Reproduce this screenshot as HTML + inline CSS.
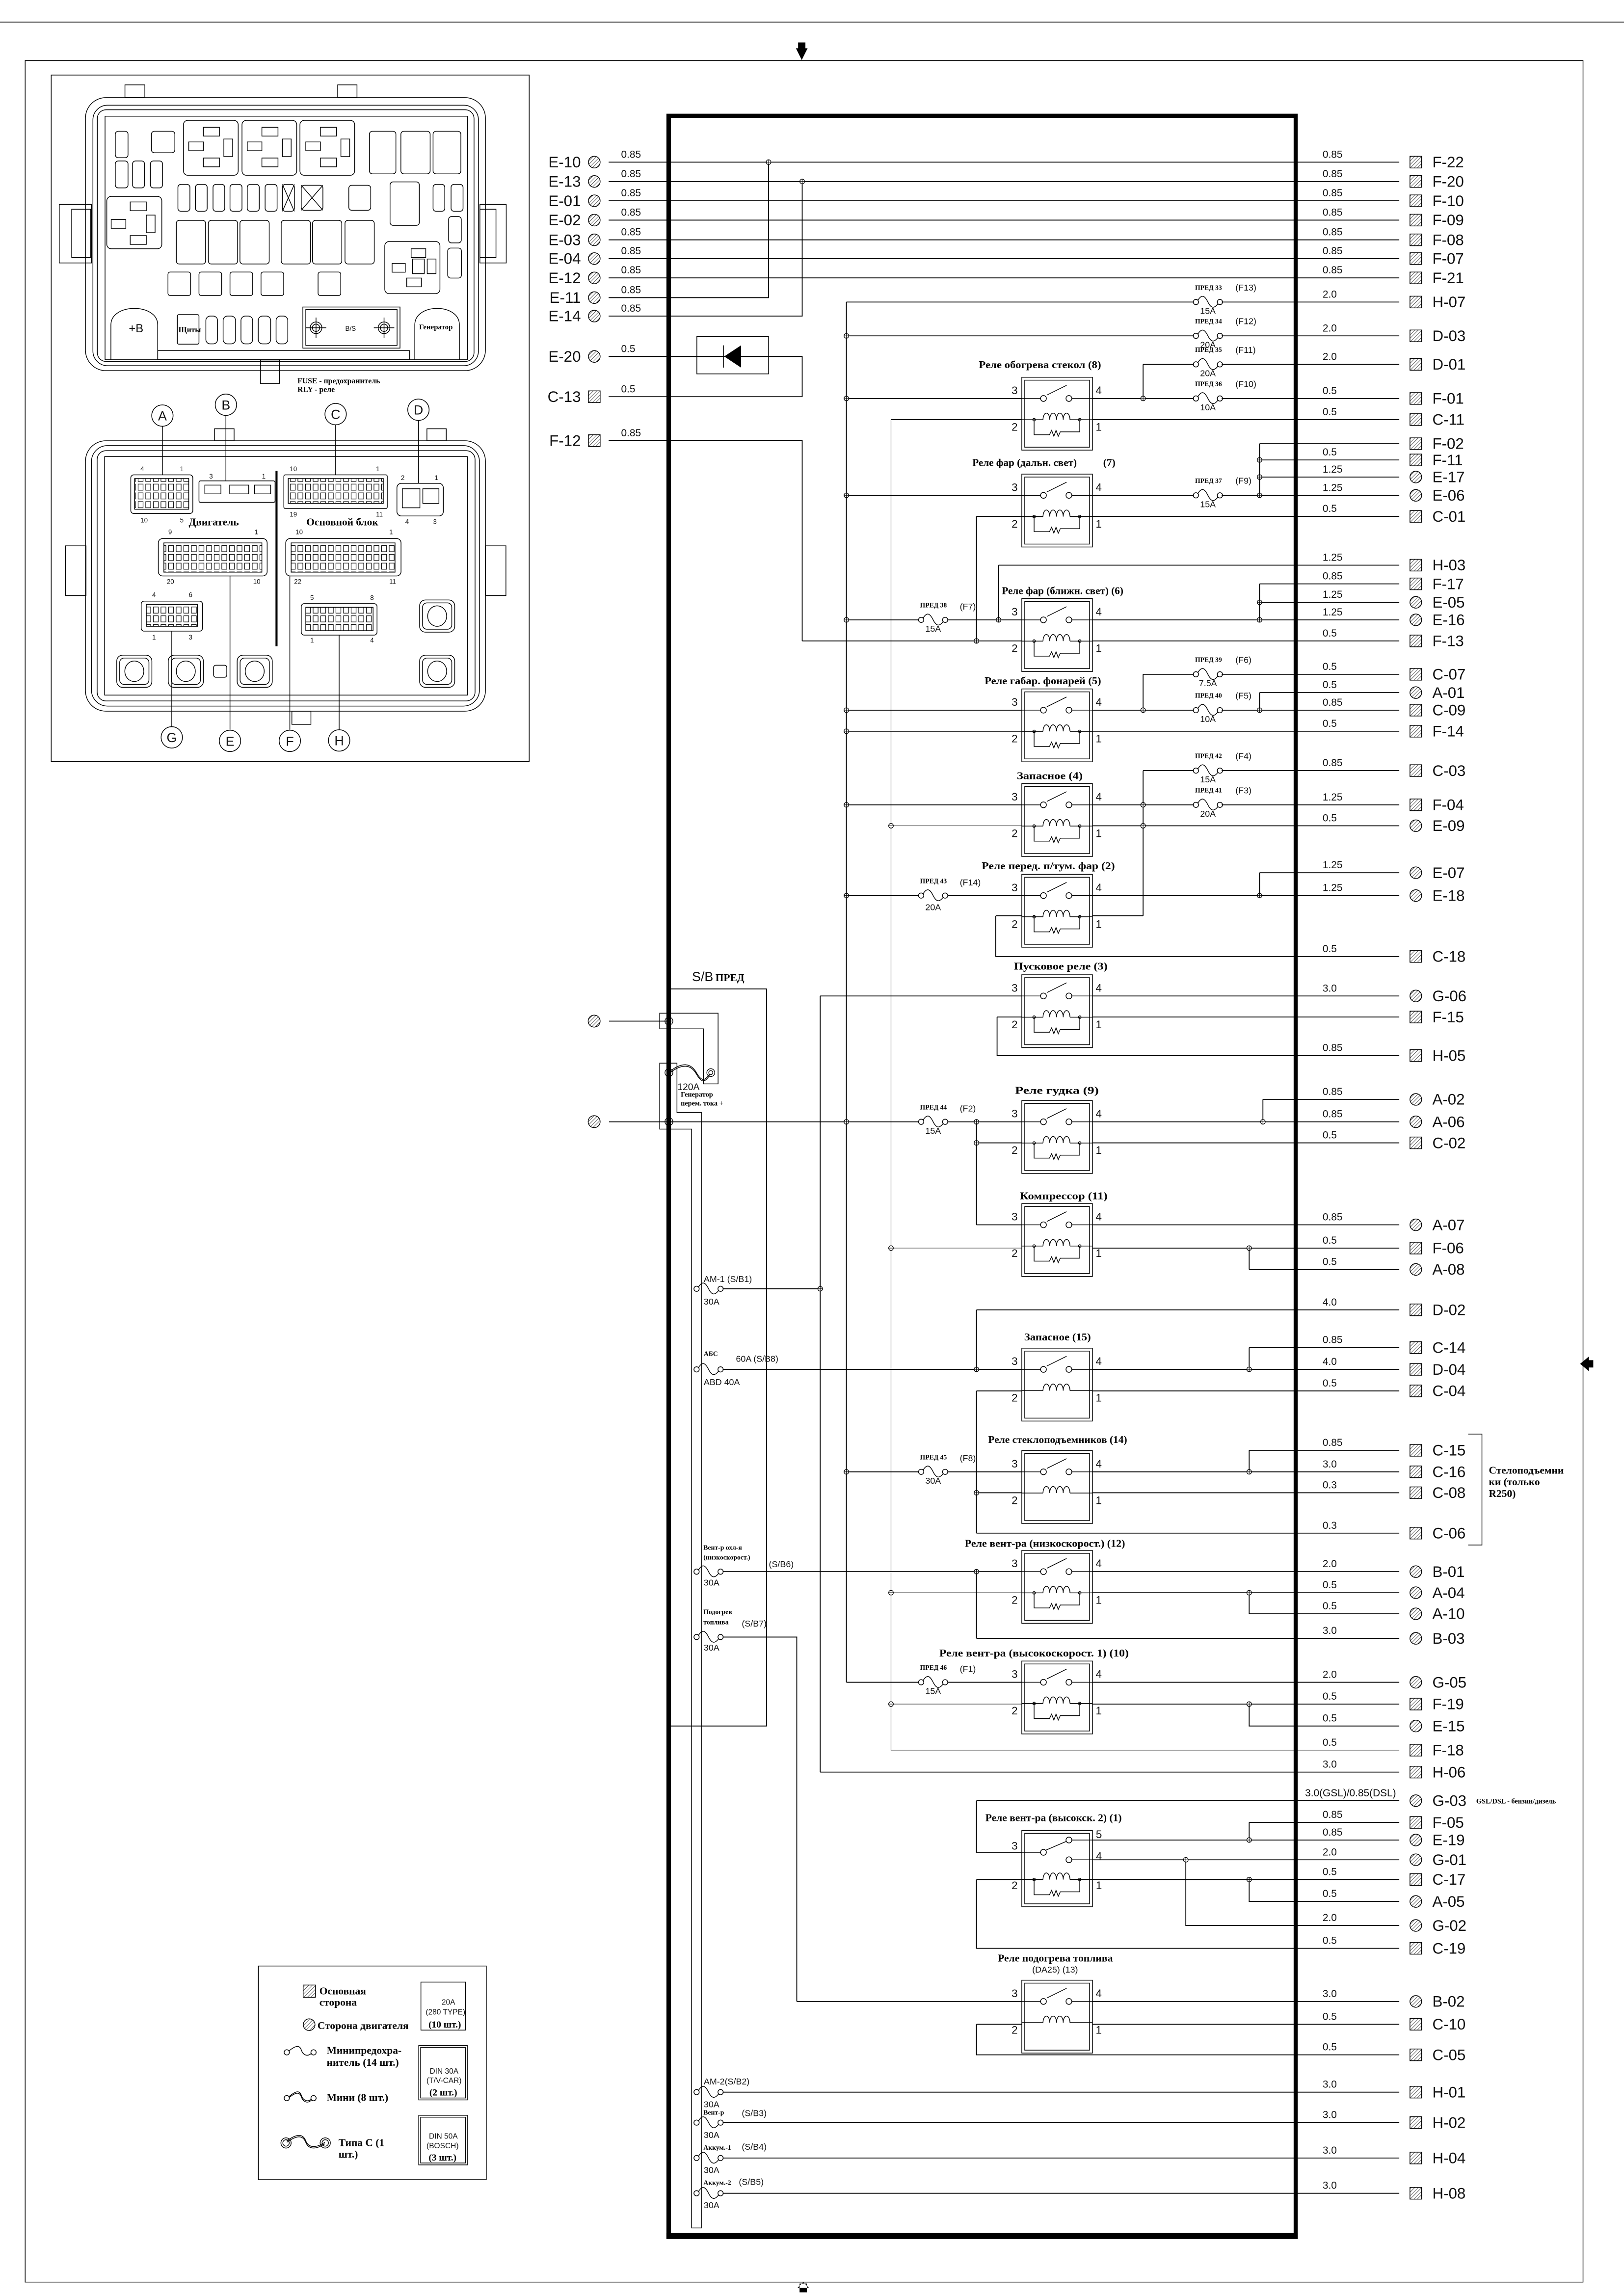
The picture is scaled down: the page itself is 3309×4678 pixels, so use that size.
<!DOCTYPE html>
<html><head><meta charset="utf-8"><style>
html,body{margin:0;padding:0;background:#fff}
svg{display:block}
.w{stroke:#000;stroke-width:.6;fill:none}
.k{stroke:#000;stroke-width:.5;fill:none}
.n{font-family:"Liberation Sans",sans-serif;font-size:10.5px;fill:#111}
.g{font-family:"Liberation Sans",sans-serif;font-size:7px;fill:#111}
.r{font-family:"Liberation Serif",serif;font-weight:bold;font-size:7.2px;fill:#000}
.p{font-family:"Liberation Serif",serif;font-weight:bold;font-size:4.6px;fill:#000}
.q{font-family:"Liberation Sans",sans-serif;font-size:6px;fill:#111}
.s{font-family:"Liberation Sans",sans-serif;font-size:4.5px;fill:#111}
.pn{font-family:"Liberation Sans",sans-serif;font-size:7.5px;fill:#111}
</style></head><body>
<svg width="3309" height="4678" viewBox="0 0 1110 1569" preserveAspectRatio="none" xmlns="http://www.w3.org/2000/svg">
<defs>
<pattern id="h" patternUnits="userSpaceOnUse" width="1.7" height="1.7" patternTransform="rotate(45)"><line x1="0" y1="0" x2="0" y2="1.7" stroke="#000" stroke-width=".45"/></pattern>
<pattern id="cl" patternUnits="userSpaceOnUse" width="5.2" height="6"><rect x=".8" y=".8" width="3.4" height="4.2" fill="none" stroke="#000" stroke-width=".4"/></pattern>
<g id="sq"><rect x="-4" y="-4" width="8" height="8" fill="url(#h)" stroke="#000" stroke-width=".5"/></g>
<g id="ci"><circle r="4" fill="url(#h)" stroke="#000" stroke-width=".5"/></g>
<g id="fu" fill="none" stroke="#000" stroke-width=".5"><circle cx="-8.2" r="1.8"/><circle cx="8.2" r="1.8"/><path d="M-7,-1 C-4,-6 -2,-4 0,0 S4,5 7,1"/></g>
<g id="jd"><circle r="1.6" fill="#fff" stroke="#000" stroke-width=".45"/><path d="M-1.6,0H1.6M0,-1.6V1.6" stroke="#000" stroke-width=".35"/></g>
<g id="rs" class="k"><rect x="0" y="-14.5" width="48.3" height="49.8"/><rect x="2" y="-12.5" width="44.3" height="45.8"/>
<path d="M0,0H12.8M34.2,0H48.3M17.1,-2.3L30.6,-9M0,14.5H8.4M39.6,14.5H48.3M8.4,14.5H14.5M32.9,14.5H39.6"/>
<circle cx="14.8" r="2"/><circle cx="32.2" r="2"/>
<path d="M14.5,14.5 a2.3,4.5 0 0 1 4.6,0 a2.3,4.5 0 0 1 4.6,0 a2.3,4.5 0 0 1 4.6,0 a2.3,4.5 0 0 1 4.6,0"/>
<circle cx="8.4" cy="14.5" r=".9"/><circle cx="39.6" cy="14.5" r=".9"/>
<path d="M8.4,14.5V24.8H18.9l1.5,-3 1.5,4 1.5,-4 1.5,4 1.4,-3H39.6V14.5"/>
<text class="pn" x="-7" y="-3" stroke="none" fill="#111">3</text><text class="pn" x="50.5" y="-3" stroke="none" fill="#111">4</text>
<text class="pn" x="-7" y="22" stroke="none" fill="#111">2</text><text class="pn" x="50.5" y="22" stroke="none" fill="#111">1</text></g>
<g id="rn" class="k"><rect x="0" y="-14.5" width="48.3" height="49.8"/><rect x="2" y="-12.5" width="44.3" height="45.8"/>
<path d="M0,0H12.8M34.2,0H48.3M17.1,-2.3L30.6,-9M0,14.5H14.5M32.9,14.5H48.3"/>
<circle cx="14.8" r="2"/><circle cx="32.2" r="2"/>
<path d="M14.5,14.5 a2.3,4.5 0 0 1 4.6,0 a2.3,4.5 0 0 1 4.6,0 a2.3,4.5 0 0 1 4.6,0 a2.3,4.5 0 0 1 4.6,0"/>
<text class="pn" x="-7" y="-3" stroke="none" fill="#111">3</text><text class="pn" x="50.5" y="-3" stroke="none" fill="#111">4</text>
<text class="pn" x="-7" y="22" stroke="none" fill="#111">2</text><text class="pn" x="50.5" y="22" stroke="none" fill="#111">1</text></g>
<g id="dc"><circle r="2.7" fill="none" stroke="#000" stroke-width=".45"/><circle r="1.4" fill="none" stroke="#000" stroke-width=".45"/></g>
<g id="hole" class="k"><rect x="-12" y="-11" width="24" height="22" rx="4"/><rect x="-10" y="-9" width="20" height="18" rx="3"/><ellipse rx="6.5" ry="7"/></g>
</defs>
<rect width="1110" height="1569" fill="#fff"/>
<!-- page frame -->
<path class="k" d="M0,15.1H1110"/>
<rect class="k" x="17.2" y="41.4" width="1064.8" height="1518.1"/>
<path d="M545.5,33h5v-4h-5zM544,33h8l-4,8z" fill="#000"/>
<path d="M546.5,1560.5h5v6h-5zM545,1563.5h8l-4,-4z" fill="#000"/>
<path d="M1080,932l6,-5v10z" fill="#000"/><rect x="1085" y="929.5" width="4" height="5" fill="#000"/>

<!-- LEFT PANEL -->
<rect class="k" x="35" y="51.3" width="326.7" height="469"/>
<rect class="k" x="58.4" y="66.7" width="273.4" height="186.6" rx="14"/>
<rect class="k" x="63.5" y="71.9" width="263.5" height="178" rx="10"/>
<rect class="k" x="66.5" y="75" width="257.5" height="172" rx="6"/>
<rect class="k" x="71.8" y="79.4" width="247.7" height="166.4"/>
<rect class="k" x="85.4" y="58" width="13.6" height="8.7"/><rect class="k" x="230.8" y="58" width="13.2" height="8.7"/>
<rect class="k" x="40.5" y="139.7" width="22" height="40"/><rect class="k" x="49" y="143" width="13" height="33"/>
<rect class="k" x="328" y="139.7" width="18" height="40"/><rect class="k" x="328" y="143" width="11" height="33"/>
<rect class="k" x="178" y="246" width="13" height="16"/>
<g class="k">
<rect x="125.4" y="82.2" width="37.4" height="37.6" rx="3"/><rect x="165.4" y="82.2" width="37.4" height="37.6" rx="3"/><rect x="205" y="82.2" width="37.4" height="37.6" rx="3"/>
<rect x="139" y="87" width="11" height="6"/><rect x="179" y="87" width="11" height="6"/><rect x="219" y="87" width="11" height="6"/>
<rect x="139" y="108" width="11" height="6"/><rect x="179" y="108" width="11" height="6"/><rect x="219" y="108" width="11" height="6"/>
<rect x="129" y="97" width="10" height="6"/><rect x="169" y="97" width="10" height="6"/><rect x="209" y="97" width="10" height="6"/>
<rect x="153" y="95" width="6" height="12"/><rect x="193" y="95" width="6" height="12"/><rect x="233" y="95" width="6" height="12"/>
<rect x="252.5" y="89.7" width="18.1" height="29.1" rx="2"/><rect x="274" y="89.7" width="20" height="29.1" rx="2"/><rect x="296" y="89.7" width="19" height="29.1" rx="2"/>
<rect x="78.8" y="89.7" width="8.7" height="18.1" rx="2"/><rect x="103.5" y="89.7" width="16" height="14.7" rx="2"/>
<rect x="78.8" y="110" width="8.7" height="18.4" rx="2"/><rect x="90.6" y="110" width="8.2" height="18.4" rx="2"/><rect x="102.8" y="110" width="8.3" height="18.4" rx="2"/>
<rect x="73" y="134.2" width="37.6" height="35.8" rx="3"/><rect x="89" y="138" width="11" height="6"/><rect x="89" y="161" width="11" height="6"/><rect x="76" y="150" width="10" height="6"/><rect x="100" y="147" width="6" height="12"/>
<rect x="121.6" y="126" width="8.2" height="18.4" rx="2"/><rect x="133.6" y="126" width="8" height="18.4" rx="2"/><rect x="145.6" y="126" width="8" height="18.4" rx="2"/><rect x="157.2" y="126" width="8.2" height="18.4" rx="2"/><rect x="169" y="126" width="8.2" height="18.4" rx="2"/><rect x="181.2" y="126" width="8.2" height="18.4" rx="2"/><rect x="193" y="126" width="8.2" height="18.4" rx="2"/>
<rect x="205.9" y="126.6" width="14.8" height="17.1" rx="2"/><rect x="238.4" y="126.6" width="15" height="17.1" rx="2"/>
<path d="M193,126L201.2,144.4M201.2,126L193,144.4M205.9,126.6L220.7,143.7M220.7,126.6L205.9,143.7"/>
<rect x="266.6" y="124.3" width="20" height="29.7" rx="2"/><rect x="296" y="126" width="8" height="18.4" rx="2"/><rect x="308.3" y="126" width="8.2" height="18.4" rx="2"/>
<rect x="306.6" y="148" width="8.7" height="18" rx="2"/><rect x="306" y="169.5" width="9.4" height="20.5" rx="2"/>
<rect x="120.5" y="150.6" width="20" height="29.8" rx="2"/><rect x="142.4" y="150.6" width="20" height="29.8" rx="2"/><rect x="164" y="150.6" width="20" height="29.8" rx="2"/><rect x="192.2" y="150.6" width="20" height="29.8" rx="2"/><rect x="213.6" y="150.6" width="20" height="29.8" rx="2"/><rect x="235.8" y="150.6" width="20" height="29.8" rx="2"/>
<rect x="263" y="165" width="37.7" height="35.7" rx="3"/><rect x="281" y="170" width="10" height="6"/><rect x="278" y="190" width="10" height="6"/><rect x="268" y="180" width="9" height="6"/><rect x="282" y="177" width="8" height="10"/><rect x="292" y="177" width="6" height="10"/>
<rect x="114.8" y="185.9" width="15.5" height="16.1" rx="1.5"/><rect x="136" y="185.9" width="15.5" height="16.1" rx="1.5"/><rect x="157.2" y="185.9" width="15.5" height="16.1" rx="1.5"/><rect x="178.4" y="185.9" width="15.5" height="16.1" rx="1.5"/><rect x="217.4" y="185.9" width="15.5" height="16.1" rx="1.5"/>
<path d="M75.8,245.8V222c0,-15 32,-15 32,0V245.8M283.5,245.8V222c0,-15 30.5,-15 30.5,0V245.8"/>
<rect x="121.2" y="215" width="14.8" height="20.2" rx="1"/>
<rect x="140.7" y="216" width="8" height="19" rx="3"/><rect x="152.5" y="216" width="8.5" height="19" rx="3"/><rect x="164.7" y="216" width="8" height="19" rx="3"/><rect x="176.5" y="216" width="8.5" height="19" rx="3"/><rect x="188.7" y="216" width="8" height="19" rx="3"/>
<rect x="207" y="209.8" width="66.4" height="28.1"/><rect x="209" y="211.5" width="62.4" height="24.5"/>
<circle cx="216" cy="224" r="4"/><circle cx="216" cy="224" r="2.5"/><circle cx="262.5" cy="224" r="4"/><circle cx="262.5" cy="224" r="2.5"/>
<path d="M209,224H223M216,217V231M255.5,224H269.5M262.5,217V231"/>
<rect x="107.8" y="239.6" width="172.2" height="6.2"/>
</g>
<text class="g" x="88" y="227" style="font-size:8px">+B</text>
<text class="p" x="122" y="227" style="font-size:5.2px">Щиты</text>
<text class="p" x="286.5" y="225" style="font-size:5px">Генератор</text>
<text class="s" x="236" y="226">B/S</text>
<text class="p" x="203.3" y="262" style="font-size:5.3px">FUSE - предохранитель</text>
<text class="p" x="203.3" y="267.8" style="font-size:5.3px">RLY - реле</text>
<rect class="k" x="58.4" y="301.2" width="273.4" height="184.8" rx="14"/>
<rect class="k" x="62.5" y="304.5" width="265.2" height="178" rx="11"/>
<rect class="k" x="66.4" y="308" width="258.3" height="171" rx="6"/>
<rect class="k" x="71.5" y="312" width="248" height="163"/>
<rect class="k" x="146.6" y="293" width="13.4" height="8.2"/><rect class="k" x="291.8" y="293" width="13.2" height="8.2"/>
<rect class="k" x="44.7" y="373" width="14.1" height="34"/><rect class="k" x="331.8" y="373" width="14" height="34"/>
<rect class="k" x="199.5" y="486" width="13" height="9"/>
<g class="k">
<rect x="89.4" y="324.5" width="42.4" height="26.4" rx="2"/><rect x="92" y="327" width="37" height="21" fill="url(#cl)"/>
<rect x="136" y="328.6" width="52" height="14.7" rx="1"/><rect x="140" y="331.5" width="11" height="6"/><rect x="157" y="331.5" width="13" height="6"/><rect x="174" y="331.5" width="11" height="6"/>
<rect x="194" y="324.5" width="70.7" height="23" rx="1"/><rect x="197" y="327" width="65" height="17" fill="url(#cl)"/>
<rect x="271.3" y="330.3" width="31.7" height="22.3" rx="3"/><rect x="275" y="334" width="12" height="13"/><rect x="289" y="334" width="11" height="10"/>
<rect x="108.2" y="368" width="74.4" height="25.6" rx="3"/><rect x="112" y="371" width="67" height="20" fill="url(#cl)"/>
<rect x="195.3" y="368" width="78.8" height="25.6" rx="3"/><rect x="199" y="371" width="71" height="20" fill="url(#cl)"/>
<rect x="96.5" y="410.8" width="41.9" height="20.5" rx="2"/><rect x="100" y="413" width="35" height="15" fill="url(#cl)"/>
<rect x="205.9" y="412.5" width="51.8" height="21.5" rx="2"/><rect x="209" y="415" width="46" height="16" fill="url(#cl)"/>
<rect x="146" y="454.6" width="9" height="8.2" rx="1.5"/>
</g>
<rect x="188.3" y="321.8" width="1.4" height="119.8" fill="#000"/>
<use href="#hole" x="91.8" y="458.7"/><use href="#hole" x="127" y="458.7"/><use href="#hole" x="174.1" y="458.7"/><use href="#hole" x="298.8" y="458.7"/><use href="#hole" x="298.8" y="421"/>
<text class="r" x="129" y="359">Двигатель</text><text class="r" x="209.4" y="359">Основной блок</text>
<g class="s"><text x="96" y="322">4</text><text x="123" y="322">1</text><text x="96" y="357">10</text><text x="123" y="357">5</text><text x="143" y="327">3</text><text x="179" y="327">1</text><text x="198" y="322">10</text><text x="257" y="322">1</text><text x="198" y="353">19</text><text x="257" y="353">11</text><text x="274" y="328">2</text><text x="297" y="328">1</text><text x="277" y="358">4</text><text x="296" y="358">3</text><text x="115" y="365">9</text><text x="174" y="365">1</text><text x="114" y="399">20</text><text x="173" y="399">10</text><text x="202" y="365">10</text><text x="266" y="365">1</text><text x="201" y="399">22</text><text x="266" y="399">11</text><text x="104" y="408">4</text><text x="129" y="408">6</text><text x="104" y="437">1</text><text x="129" y="437">3</text><text x="212" y="410">5</text><text x="253" y="410">8</text><text x="212" y="439">1</text><text x="253" y="439">4</text></g>
<g class="k"><circle cx="111" cy="284" r="7.3"/><circle cx="154.4" cy="276.6" r="7.3"/><circle cx="229.4" cy="283" r="7.3"/><circle cx="286" cy="280" r="7.3"/><circle cx="117.4" cy="503.9" r="7.3"/><circle cx="157.2" cy="506.3" r="7.3"/><circle cx="198.1" cy="506.3" r="7.3"/><circle cx="231.8" cy="506" r="7.3"/>
<path d="M111,291.3V324.5M154.4,283.9V328.6M229.4,290.3V324.5M286,287.3V330.3M117.4,496.6V431.3M157.2,499V393.6M198.1,499V393.6M231.8,498.7V434"/></g>
<g class="g" text-anchor="middle" style="font-size:9px"><text x="111" y="287.3">A</text><text x="154.4" y="279.9">B</text><text x="229.4" y="286.3">C</text><text x="286" y="283.3">D</text><text x="117.4" y="507.2">G</text><text x="157.2" y="509.6">E</text><text x="198.1" y="509.6">F</text><text x="231.8" y="509.3">H</text></g>

<!-- LEGEND -->
<rect class="k" x="176.6" y="1343.5" width="155.8" height="146"/>
<rect x="207.2" y="1356.5" width="8.4" height="8.4" fill="url(#h)" stroke="#000" stroke-width=".5"/>
<text class="r" x="218.3" y="1362.9">Основная</text><text class="r" x="218.3" y="1370.6">сторона</text>
<circle cx="211.3" cy="1383.6" r="4" fill="url(#h)" stroke="#000" stroke-width=".5"/>
<text class="r" x="217" y="1386.5">Сторона двигателя</text>
<g class="k"><circle cx="196" cy="1402.5" r="1.8"/><circle cx="214.3" cy="1402.5" r="1.8"/><path d="M197.5,1401.5C203,1397 205,1398 206,1401 S210,1406 213,1403"/>
<circle cx="196" cy="1433.8" r="1.8"/><circle cx="214.3" cy="1433.8" r="1.8"/><path d="M197.5,1432.8C203,1428 205,1429 206,1432 S210,1437 213,1434.3M197.5,1433.5C203,1429 205,1430 206,1433 S210,1438 213,1435"/>
<circle cx="195.5" cy="1464.4" r="3.5"/><circle cx="195.5" cy="1464.4" r="2.2"/><circle cx="222.3" cy="1464.4" r="3.5"/><circle cx="222.3" cy="1464.4" r="2.2"/><path d="M196,1463C203,1458 207,1458 209,1463 S216,1468 222,1464M196,1464C203,1459 207,1459 209,1464 S216,1469 222,1465"/></g>
<text class="r" x="223.3" y="1403.4">Минипредохра-</text><text class="r" x="223.3" y="1411.7">нитель (14 шт.)</text>
<text class="r" x="223.3" y="1435.6">Мини (8 шт.)</text>
<text class="r" x="231.4" y="1466.6">Типа С (1</text><text class="r" x="231.4" y="1474.4">шт.)</text>
<rect class="k" x="287.7" y="1354.5" width="30.5" height="32.8"/>
<rect class="k" x="286.2" y="1397.8" width="33.2" height="37.2"/><rect class="k" x="287.5" y="1399.1" width="30.6" height="34.6"/>
<rect class="k" x="286.2" y="1445.5" width="33.2" height="33.9"/><rect class="k" x="287.5" y="1446.8" width="30.6" height="31.3"/>
<g class="q" text-anchor="middle" style="font-size:5.2px"><text x="306.5" y="1370">20A</text><text x="304.5" y="1376.6">(280 TYPE)</text><text x="303.5" y="1417">DIN 30A</text><text x="303.5" y="1423.5">(T/V-CAR)</text><text x="303" y="1461.5">DIN 50A</text><text x="302.5" y="1468">(BOSCH)</text></g>
<g class="r" text-anchor="middle" style="font-size:6.5px"><text x="304" y="1385.5">(10 шт.)</text><text x="303" y="1432">(2 шт.)</text><text x="302.5" y="1476.5">(3 шт.)</text></g>

<!-- MAIN BOX -->
<rect x="456.9" y="79.1" width="428.7" height="1449.5" fill="none" stroke="#000" stroke-width="2.8"/>
<rect x="455.5" y="1526" width="431.5" height="4" fill="#000"/>

<g class="n" text-anchor="end">
<text x="397" y="114.4">E-10</text><text x="397" y="127.6">E-13</text><text x="397" y="140.8">E-01</text><text x="397" y="154">E-02</text><text x="397" y="167.5">E-03</text><text x="397" y="180.3">E-04</text><text x="397" y="193.5">E-12</text><text x="397" y="207">E-11</text><text x="397" y="219.6">E-14</text><text x="397" y="247.2">E-20</text><text x="397" y="274.7">C-13</text><text x="397" y="304.7">F-12</text></g>
<use href="#ci" x="406.2" y="110.8"/><use href="#ci" x="406.2" y="124"/><use href="#ci" x="406.2" y="137.2"/><use href="#ci" x="406.2" y="150.4"/><use href="#ci" x="406.2" y="163.9"/><use href="#ci" x="406.2" y="176.7"/><use href="#ci" x="406.2" y="189.9"/><use href="#ci" x="406.2" y="203.4"/><use href="#ci" x="406.2" y="216"/><use href="#ci" x="406.2" y="243.6"/><use href="#sq" x="406.2" y="271.1"/><use href="#sq" x="406.2" y="301.1"/>
<g class="g"><text x="424.5" y="107.8">0.85</text><text x="424.5" y="121">0.85</text><text x="424.5" y="134.2">0.85</text><text x="424.5" y="147.4">0.85</text><text x="424.5" y="160.9">0.85</text><text x="424.5" y="173.7">0.85</text><text x="424.5" y="186.9">0.85</text><text x="424.5" y="200.4">0.85</text><text x="424.5" y="213">0.85</text><text x="424.5" y="240.6">0.5</text><text x="424.5" y="268.1">0.5</text><text x="424.5" y="298.1">0.85</text></g>
<rect class="k" x="476.3" y="230" width="49" height="25.5"/>
<path d="M495,243.6L506.5,236V251.2Z" fill="#000"/><path class="k" d="M494.5,236V251.2"/>
<circle cx="406.1" cy="697.8" r="4.1" fill="url(#h)" stroke="#000" stroke-width=".5"/><circle cx="406.1" cy="766.5" r="4.1" fill="url(#h)" stroke="#000" stroke-width=".5"/>

<path class="w" d="
M416,110.8H956.4M416,124H956.4M416,137.2H956.4M416,150.4H956.4M416,163.9H956.4M416,176.7H956.4M416,189.9H956.4
M416,203.4H525.3V110.8M416,216H548.3V124
M416,243.6H548.3V271.1H416
M578.5,206.4H816M835,206.4H956.4M578.5,206.4V1149.6
M578.5,229.5H816M835,229.5H956.4
M781.3,249H816M835,249H956.4M781.3,249V272.3
M578.5,272.3H698.4M746.7,272.3H816M835,272.3H956.4
M609,286.7H698.4M746.7,286.7H956.4
M416,301.1H548.3V438
M860.9,303.2H956.4M860.9,303.2V338.5M860.9,314.3H956.4M860.9,326H956.4
M578.5,338.5H698.4M746.7,338.5H816M835,338.5H956.4
M667.4,352.9H698.4M746.7,352.9H956.4M667.4,352.9V438
M682.5,386.2H956.4M682.5,386.2V423.6
M860.9,399H956.4M860.9,399V423.6M860.9,411.6H956.4
M578.5,423.6H628M648,423.6H698.4M746.7,423.6H956.4
M548.3,438H698.4M746.7,438H956.4
M781.3,460.8H816M835,460.8H956.4M781.3,460.8V485.3
M860.9,473.3H956.4M860.9,473.3V485.3
M578.5,485.3H698.4M746.7,485.3H816M835,485.3H956.4
M578.5,499.7H698.4M746.7,499.7H956.4
M781.3,526.6H816M835,526.6H956.4M781.3,526.6V625.8
M578.5,550H698.4M746.7,550H816M835,550H956.4
M746.7,564.3H956.4
M860.9,596.4H956.4M860.9,596.4V612
M578.5,612H628M648,612H698.4M746.7,612H956.4
M680.6,625.8H698.4M746.7,625.8H781.3M680.6,625.8V653.6H956.4
M560.6,680.6H698.4M746.7,680.6H956.4M560.6,680.6V1211
M681.5,695H698.4M746.7,695H956.4M681.5,695V721.3H956.4
M416.3,697.8H457
M416.3,766.6H628M648,766.6H698.4M746.7,766.6H956.4
M863.2,751.3H956.4M863.2,751.3V766.6
M667.4,781H698.4M746.7,781H956.4M667.4,766.6V837
M667.4,837H698.4M746.7,837H956.4
M746.7,852.9H956.4
M853.8,867.5H956.4M853.8,852.9V867.5
M494,880.7H560.6
M667.4,895.1H956.4M667.4,895.1V935.8
M494,935.8H698.4M746.7,935.8H956.4
M853.8,920.9H956.4M853.8,920.9V935.8
M667.4,950.5H698.4M746.7,950.5H956.4M667.4,950.5V1047.7
M853.8,991.1H956.4M853.8,991.1V1005.8
M578.5,1005.8H628M648,1005.8H698.4M746.7,1005.8H956.4
M667.4,1020.1H698.4M746.7,1020.1H956.4
M667.4,1047.7H956.4
M494,1074H698.4M746.7,1074H956.4M667.4,1074V1119.6
M746.7,1088.4H956.4M853.8,1088.4V1102.8H956.4
M667.4,1119.6H956.4
M494,1118.7H544.6V1367.7
M578.5,1149.6H628M648,1149.6H698.4M746.7,1149.6H956.4
M746.7,1164.5H956.4M853.8,1164.5V1179.5H956.4
M560.6,1211H956.4
M457,675.8H523.9V1179.5H457
M667.4,1230.5H956.4M667.4,1230.5V1265.8H698.4
M853.8,1245.4H956.4M853.8,1245.4V1257.4
M746.7,1257.4H956.4M746.7,1270.9H956.4M810.5,1270.9V1315.8H956.4
M667.4,1284.4H698.4M746.7,1284.4H956.4M667.4,1284.4V1331.4H956.4M853.8,1284.4V1299.4H956.4
M544.6,1367.7H698.4M746.7,1367.7H956.4
M667.4,1383.3H698.4M746.7,1383.3H956.4M667.4,1383.3V1404.2H956.4
M494,1429.7H956.4M494,1450.5H956.4M494,1474.7H956.4M494,1498.8H956.4
"/>
<path d="M609,286.7V1196H956.4M609,564.3H698.4M609,852.9H698.4M609,1088.4H698.4M609,1164.5H698.4" stroke="#000" stroke-width=".4" fill="none" opacity=".75"/>

<path class="k" d="M450.9,692.4H490.8V740.7H480.8V703.1H450.9Z"/>
<path class="k" d="M450.9,726.5H462.7V760.2H479.4V1522.5H472.7V771.6H450.9Z"/>
<rect x="455.8" y="79" width="2.8" height="1450" fill="#000"/>
<use href="#dc" x="457.2" y="697.8"/><use href="#dc" x="457.2" y="733"/><use href="#dc" x="485.8" y="733"/><use href="#dc" x="457.2" y="766.5"/>
<path class="k" d="M458,732C466,726 472,726 476,733 S482,738 485,734M458,733C466,727 472,727 476,734 S482,739 485,735"/>
<text class="g" x="463" y="745" style="font-size:6.5px">120A</text>
<text class="p" x="465.3" y="749.5" style="font-size:4.8px">Генератор</text><text class="p" x="465.3" y="755.5" style="font-size:4.8px">перем. тока +</text>
<text class="g" x="473" y="670.5" style="font-size:9px">S/B</text><text class="r" x="489" y="670.5">ПРЕД</text>

<use href="#rs" x="698.4" y="272.3"/>
<use href="#rs" x="698.4" y="338.5"/>
<use href="#rs" x="698.4" y="423.6"/>
<use href="#rs" x="698.4" y="485.3"/>
<use href="#rs" x="698.4" y="550"/>
<use href="#rs" x="698.4" y="612"/>
<use href="#rs" x="698.4" y="680.6"/>
<use href="#rs" x="698.4" y="766.6"/>
<use href="#rs" x="698.4" y="837"/>
<use href="#rn" x="698.4" y="935.8"/>
<use href="#rn" x="698.4" y="1005.8"/>
<use href="#rs" x="698.4" y="1074"/>
<use href="#rs" x="698.4" y="1149.6"/>
<use href="#rn" x="698.4" y="1367.7"/>
<g class="k" transform="translate(698.4,1265.8)">
<rect x="0" y="-15" width="48.3" height="52.2"/><rect x="2" y="-13" width="44.3" height="48.2"/>
<path d="M0,0H12.8M34.2,-8.4H48.3M34.2,5.1H48.3M16.5,-1.5L30.5,-7.5M0,18.6H8.4M39.6,18.6H48.3M8.4,18.6H14.5M32.9,18.6H39.6M8.4,18.6V29H18.9l1.5,-3 1.5,4 1.5,-4 1.5,4 1.4,-3H39.6V18.6"/>
<circle cx="14.8" r="2"/><circle cx="32.2" cy="-8.4" r="2"/><circle cx="32.2" cy="5.1" r="2"/>
<path d="M14.5,18.6 a2.3,4.5 0 0 1 4.6,0 a2.3,4.5 0 0 1 4.6,0 a2.3,4.5 0 0 1 4.6,0 a2.3,4.5 0 0 1 4.6,0"/>
<circle cx="8.4" cy="18.6" r=".9"/><circle cx="39.6" cy="18.6" r=".9"/>
</g>
<g class="pn"><text x="691.4" y="1264">3</text><text x="749" y="1256">5</text><text x="749" y="1271">4</text><text x="691.4" y="1291">2</text><text x="749" y="1291">1</text></g>

<g class="r">
<text x="669" y="251.5" textLength="83.6" lengthAdjust="spacingAndGlyphs">Реле обогрева стекол  (8)</text>
<text x="664.6" y="318.5" textLength="71.4" lengthAdjust="spacingAndGlyphs">Реле фар (дальн. свет)</text><text x="754" y="318.5">(7)</text>
<text x="684.8" y="406" textLength="83" lengthAdjust="spacingAndGlyphs">Реле фар (ближн. свет) (6)</text>
<text x="673" y="467.5" textLength="79.6" lengthAdjust="spacingAndGlyphs">Реле габар. фонарей (5)</text>
<text x="695" y="532.5" textLength="45" lengthAdjust="spacingAndGlyphs">Запасное  (4)</text>
<text x="671" y="594" textLength="91" lengthAdjust="spacingAndGlyphs">Реле перед. п/тум. фар  (2)</text>
<text x="693" y="662.5" textLength="64" lengthAdjust="spacingAndGlyphs">Пусковое реле   (3)</text>
<text x="693.8" y="747.5" textLength="57.2" lengthAdjust="spacingAndGlyphs">Реле гудка    (9)</text>
<text x="697" y="819.5" textLength="60" lengthAdjust="spacingAndGlyphs">Компрессор   (11)</text>
<text x="700" y="916" textLength="45.6" lengthAdjust="spacingAndGlyphs">Запасное (15)</text>
<text x="675.4" y="986" textLength="95" lengthAdjust="spacingAndGlyphs">Реле стеклоподъемников (14)</text>
<text x="659.4" y="1057" textLength="109.6" lengthAdjust="spacingAndGlyphs">Реле вент-ра (низкоскорост.) (12)</text>
<text x="642" y="1132" textLength="129.5" lengthAdjust="spacingAndGlyphs">Реле вент-ра (высокоскорост. 1)    (10)</text>
<text x="673.5" y="1244.5" textLength="93.2" lengthAdjust="spacingAndGlyphs">Реле вент-ра (высокск. 2) (1)</text>
<text x="682" y="1340.5" textLength="78.6" lengthAdjust="spacingAndGlyphs">Реле подогрева топлива</text>
</g>
<text class="q" x="705.5" y="1348">(DA25)  (13)</text>

<use href="#fu" x="825.6" y="206.4"/><use href="#fu" x="825.6" y="229.5"/><use href="#fu" x="825.6" y="249"/><use href="#fu" x="825.6" y="272.3"/><use href="#fu" x="825.6" y="338.5"/><use href="#fu" x="825.6" y="460.8"/><use href="#fu" x="825.6" y="485.3"/><use href="#fu" x="825.6" y="526.6"/><use href="#fu" x="825.6" y="550"/>
<use href="#fu" x="637.8" y="423.6"/><use href="#fu" x="637.8" y="612"/><use href="#fu" x="637.8" y="766.6"/><use href="#fu" x="637.8" y="1005.8"/><use href="#fu" x="637.8" y="1149.6"/>
<g class="p" text-anchor="middle">
<text x="826" y="198">ПРЕД 33</text><text x="826" y="221">ПРЕД 34</text><text x="826" y="240.5">ПРЕД 35</text><text x="826" y="263.8">ПРЕД 36</text><text x="826" y="330">ПРЕД 37</text><text x="826" y="452.3">ПРЕД 39</text><text x="826" y="476.8">ПРЕД 40</text><text x="826" y="518.1">ПРЕД 42</text><text x="826" y="541.5">ПРЕД 41</text>
<text x="638" y="415.1">ПРЕД 38</text><text x="638" y="603.5">ПРЕД 43</text><text x="638" y="758.1">ПРЕД 44</text><text x="638" y="997.3">ПРЕД 45</text><text x="638" y="1141.1">ПРЕД 46</text></g>
<g class="q" text-anchor="middle">
<text x="825.6" y="214.5">15A</text><text x="825.6" y="237.6">20A</text><text x="825.6" y="257.1">20A</text><text x="825.6" y="280.4">10A</text><text x="825.6" y="346.6">15A</text><text x="825.6" y="468.9">7.5A</text><text x="825.6" y="493.4">10A</text><text x="825.6" y="534.7">15A</text><text x="825.6" y="558.1">20A</text>
<text x="637.8" y="431.7">15A</text><text x="637.8" y="622">20A</text><text x="637.8" y="774.7">15A</text><text x="637.8" y="1013.9">30A</text><text x="637.8" y="1157.7">15A</text></g>
<g class="q">
<text x="844.4" y="198.5">(F13)</text><text x="844.4" y="221.6">(F12)</text><text x="844.4" y="241.1">(F11)</text><text x="844.4" y="264.4">(F10)</text><text x="844.4" y="330.6">(F9)</text><text x="844.4" y="452.9">(F6)</text><text x="844.4" y="477.4">(F5)</text><text x="844.4" y="518.7">(F4)</text><text x="844.4" y="542.1">(F3)</text>
<text x="656" y="416.5">(F7)</text><text x="656" y="605">(F14)</text><text x="656" y="759.5">(F2)</text><text x="656" y="998.5">(F8)</text><text x="656" y="1142.5">(F1)</text></g>

<use href="#fu" x="484.3" y="880.7"/><use href="#fu" x="484.3" y="935.8"/><use href="#fu" x="484.3" y="1074"/><use href="#fu" x="484.3" y="1118.7"/><use href="#fu" x="484.3" y="1429.7"/><use href="#fu" x="484.3" y="1450.5"/><use href="#fu" x="484.3" y="1474.7"/><use href="#fu" x="484.3" y="1498.8"/>
<g class="q">
<text x="481" y="876">AM-1  (S/B1)</text><text x="481" y="891.5">30A</text>
<text x="503" y="930.5">60A  (S/B8)</text><text x="481" y="946.5">ABD   40A</text>
<text x="525.5" y="1071">(S/B6)</text><text x="481" y="1083.5">30A</text>
<text x="507" y="1111.5">(S/B7)</text><text x="481" y="1128">30A</text>
<text x="481" y="1424.5">AM-2(S/B2)</text><text x="481" y="1440">30A</text>
<text x="507" y="1446">(S/B3)</text><text x="481" y="1461">30A</text>
<text x="507" y="1469">(S/B4)</text><text x="481" y="1485">30A</text>
<text x="505" y="1493">(S/B5)</text><text x="481" y="1509">30A</text></g>
<g class="p">
<text x="481" y="926.5">АБС</text>
<text x="480.8" y="1059">Вент-р охл-я</text><text x="480.8" y="1065.8">(низкоскорост.)</text>
<text x="480.8" y="1103">Подогрев</text><text x="480.8" y="1110">топлива</text>
<text x="480.8" y="1445">Вент-р</text>
<text x="480.8" y="1469">Аккум.-1</text>
<text x="480.8" y="1493">Аккум.-2</text></g>

<use href="#jd" x="525.3" y="110.8"/><use href="#jd" x="548.3" y="124"/>
<use href="#jd" x="578.5" y="229.5"/><use href="#jd" x="578.5" y="272.3"/><use href="#jd" x="578.5" y="338.5"/><use href="#jd" x="578.5" y="423.6"/><use href="#jd" x="578.5" y="485.3"/><use href="#jd" x="578.5" y="499.7"/><use href="#jd" x="578.5" y="550"/><use href="#jd" x="578.5" y="612"/><use href="#jd" x="578.5" y="766.6"/><use href="#jd" x="578.5" y="1005.8"/>
<use href="#jd" x="781.3" y="272.3"/><use href="#jd" x="781.3" y="485.3"/><use href="#jd" x="781.3" y="550"/><use href="#jd" x="781.3" y="564.3"/>
<use href="#jd" x="860.9" y="314.3"/><use href="#jd" x="860.9" y="326"/><use href="#jd" x="860.9" y="338.5"/><use href="#jd" x="860.9" y="411.6"/><use href="#jd" x="860.9" y="423.6"/><use href="#jd" x="860.9" y="485.3"/><use href="#jd" x="860.9" y="612"/>
<use href="#jd" x="682.5" y="423.6"/><use href="#jd" x="667.4" y="438"/>
<use href="#jd" x="609" y="564.3"/><use href="#jd" x="609" y="852.9"/><use href="#jd" x="609" y="1088.4"/><use href="#jd" x="609" y="1164.5"/>
<use href="#jd" x="667.4" y="766.6"/><use href="#jd" x="667.4" y="781"/><use href="#jd" x="863.2" y="766.6"/><use href="#jd" x="853.8" y="852.9"/><use href="#jd" x="560.6" y="880.7"/>
<use href="#jd" x="667.4" y="935.8"/><use href="#jd" x="853.8" y="935.8"/><use href="#jd" x="853.8" y="1005.8"/><use href="#jd" x="667.4" y="1020.1"/><use href="#jd" x="667.4" y="1074"/><use href="#jd" x="853.8" y="1088.4"/><use href="#jd" x="853.8" y="1164.5"/><use href="#jd" x="853.8" y="1257.4"/><use href="#jd" x="810.5" y="1270.9"/><use href="#jd" x="853.8" y="1284.4"/>

<g>
<use href="#sq" x="967.7" y="110.8"/><use href="#sq" x="967.7" y="124"/><use href="#sq" x="967.7" y="137.2"/><use href="#sq" x="967.7" y="150.4"/><use href="#sq" x="967.7" y="163.9"/><use href="#sq" x="967.7" y="176.7"/><use href="#sq" x="967.7" y="189.9"/><use href="#sq" x="967.7" y="206.4"/><use href="#sq" x="967.7" y="229.5"/><use href="#sq" x="967.7" y="249"/><use href="#sq" x="967.7" y="272.3"/><use href="#sq" x="967.7" y="286.7"/><use href="#sq" x="967.7" y="303.2"/><use href="#sq" x="967.7" y="314.3"/><use href="#ci" x="967.7" y="326"/><use href="#ci" x="967.7" y="338.5"/><use href="#sq" x="967.7" y="352.9"/><use href="#sq" x="967.7" y="386.2"/><use href="#sq" x="967.7" y="399"/><use href="#ci" x="967.7" y="411.6"/><use href="#ci" x="967.7" y="423.6"/><use href="#sq" x="967.7" y="438"/><use href="#sq" x="967.7" y="460.8"/><use href="#ci" x="967.7" y="473.3"/><use href="#sq" x="967.7" y="485.3"/><use href="#sq" x="967.7" y="499.7"/><use href="#sq" x="967.7" y="526.6"/><use href="#sq" x="967.7" y="550"/><use href="#ci" x="967.7" y="564.3"/><use href="#ci" x="967.7" y="596.4"/><use href="#ci" x="967.7" y="612"/><use href="#sq" x="967.7" y="653.6"/><use href="#ci" x="967.7" y="680.6"/><use href="#sq" x="967.7" y="695"/><use href="#sq" x="967.7" y="721.3"/><use href="#ci" x="967.7" y="751.3"/><use href="#ci" x="967.7" y="766.6"/><use href="#sq" x="967.7" y="781"/><use href="#ci" x="967.7" y="837"/><use href="#sq" x="967.7" y="852.9"/><use href="#ci" x="967.7" y="867.5"/><use href="#sq" x="967.7" y="895.1"/><use href="#sq" x="967.7" y="920.9"/><use href="#sq" x="967.7" y="935.8"/><use href="#sq" x="967.7" y="950.5"/><use href="#sq" x="967.7" y="991.1"/><use href="#sq" x="967.7" y="1005.8"/><use href="#sq" x="967.7" y="1020.1"/><use href="#sq" x="967.7" y="1047.7"/><use href="#ci" x="967.7" y="1074"/><use href="#ci" x="967.7" y="1088.4"/><use href="#ci" x="967.7" y="1102.8"/><use href="#ci" x="967.7" y="1119.6"/><use href="#ci" x="967.7" y="1149.6"/><use href="#sq" x="967.7" y="1164.5"/><use href="#ci" x="967.7" y="1179.5"/><use href="#sq" x="967.7" y="1196"/><use href="#sq" x="967.7" y="1211"/><use href="#ci" x="967.7" y="1230.5"/><use href="#sq" x="967.7" y="1245.4"/><use href="#ci" x="967.7" y="1257.4"/><use href="#ci" x="967.7" y="1270.9"/><use href="#sq" x="967.7" y="1284.4"/><use href="#ci" x="967.7" y="1299.4"/><use href="#ci" x="967.7" y="1315.8"/><use href="#sq" x="967.7" y="1331.4"/><use href="#ci" x="967.7" y="1367.7"/><use href="#sq" x="967.7" y="1383.3"/><use href="#sq" x="967.7" y="1404.2"/><use href="#sq" x="967.7" y="1429.7"/><use href="#sq" x="967.7" y="1450.5"/><use href="#sq" x="967.7" y="1474.7"/><use href="#sq" x="967.7" y="1498.8"/>
</g>
<g class="n">
<text x="979" y="114.4">F-22</text><text x="979" y="127.6">F-20</text><text x="979" y="140.8">F-10</text><text x="979" y="154">F-09</text><text x="979" y="167.5">F-08</text><text x="979" y="180.3">F-07</text><text x="979" y="193.5">F-21</text><text x="979" y="210">H-07</text><text x="979" y="233.1">D-03</text><text x="979" y="252.6">D-01</text><text x="979" y="275.9">F-01</text><text x="979" y="290.3">C-11</text><text x="979" y="306.8">F-02</text><text x="979" y="317.9">F-11</text><text x="979" y="329.6">E-17</text><text x="979" y="342.1">E-06</text><text x="979" y="356.5">C-01</text><text x="979" y="389.8">H-03</text><text x="979" y="402.6">F-17</text><text x="979" y="415.2">E-05</text><text x="979" y="427.2">E-16</text><text x="979" y="441.6">F-13</text><text x="979" y="464.4">C-07</text><text x="979" y="476.9">A-01</text><text x="979" y="488.9">C-09</text><text x="979" y="503.3">F-14</text><text x="979" y="530.2">C-03</text><text x="979" y="553.6">F-04</text><text x="979" y="567.9">E-09</text><text x="979" y="600">E-07</text><text x="979" y="615.6">E-18</text><text x="979" y="657.2">C-18</text><text x="979" y="684.2">G-06</text><text x="979" y="698.6">F-15</text><text x="979" y="724.9">H-05</text><text x="979" y="754.9">A-02</text><text x="979" y="770.2">A-06</text><text x="979" y="784.6">C-02</text><text x="979" y="840.6">A-07</text><text x="979" y="856.5">F-06</text><text x="979" y="871.1">A-08</text><text x="979" y="898.7">D-02</text><text x="979" y="924.5">C-14</text><text x="979" y="939.4">D-04</text><text x="979" y="954.1">C-04</text><text x="979" y="994.7">C-15</text><text x="979" y="1009.4">C-16</text><text x="979" y="1023.7">C-08</text><text x="979" y="1051.3">C-06</text><text x="979" y="1077.6">B-01</text><text x="979" y="1092">A-04</text><text x="979" y="1106.4">A-10</text><text x="979" y="1123.2">B-03</text><text x="979" y="1153.2">G-05</text><text x="979" y="1168.1">F-19</text><text x="979" y="1183.1">E-15</text><text x="979" y="1199.6">F-18</text><text x="979" y="1214.6">H-06</text><text x="979" y="1234.1">G-03</text><text x="979" y="1249">F-05</text><text x="979" y="1261">E-19</text><text x="979" y="1274.5">G-01</text><text x="979" y="1288">C-17</text><text x="979" y="1303">A-05</text><text x="979" y="1319.4">G-02</text><text x="979" y="1335">C-19</text><text x="979" y="1371.3">B-02</text><text x="979" y="1386.9">C-10</text><text x="979" y="1407.8">C-05</text><text x="979" y="1433.3">H-01</text><text x="979" y="1454.1">H-02</text><text x="979" y="1478.3">H-04</text><text x="979" y="1502.4">H-08</text>
</g>
<g class="g">
<text x="904" y="107.8">0.85</text><text x="904" y="121">0.85</text><text x="904" y="134.2">0.85</text><text x="904" y="147.4">0.85</text><text x="904" y="160.9">0.85</text><text x="904" y="173.7">0.85</text><text x="904" y="186.9">0.85</text><text x="904" y="203.4">2.0</text><text x="904" y="226.5">2.0</text><text x="904" y="246">2.0</text><text x="904" y="269.3">0.5</text><text x="904" y="283.7">0.5</text><text x="904" y="311.3">0.5</text><text x="904" y="323">1.25</text><text x="904" y="335.5">1.25</text><text x="904" y="349.9">0.5</text><text x="904" y="383.2">1.25</text><text x="904" y="396">0.85</text><text x="904" y="408.6">1.25</text><text x="904" y="420.6">1.25</text><text x="904" y="435">0.5</text><text x="904" y="457.8">0.5</text><text x="904" y="470.3">0.5</text><text x="904" y="482.3">0.85</text><text x="904" y="496.7">0.5</text><text x="904" y="523.6">0.85</text><text x="904" y="547">1.25</text><text x="904" y="561.3">0.5</text><text x="904" y="593.4">1.25</text><text x="904" y="609">1.25</text><text x="904" y="650.6">0.5</text><text x="904" y="677.6">3.0</text><text x="904" y="718.3">0.85</text><text x="904" y="748.3">0.85</text><text x="904" y="763.6">0.85</text><text x="904" y="778">0.5</text><text x="904" y="834">0.85</text><text x="904" y="849.9">0.5</text><text x="904" y="864.5">0.5</text><text x="904" y="892.1">4.0</text><text x="904" y="917.9">0.85</text><text x="904" y="932.8">4.0</text><text x="904" y="947.5">0.5</text><text x="904" y="988.1">0.85</text><text x="904" y="1002.8">3.0</text><text x="904" y="1017.1">0.3</text><text x="904" y="1044.7">0.3</text><text x="904" y="1071">2.0</text><text x="904" y="1085.4">0.5</text><text x="904" y="1099.8">0.5</text><text x="904" y="1116.6">3.0</text><text x="904" y="1146.6">2.0</text><text x="904" y="1161.5">0.5</text><text x="904" y="1176.5">0.5</text><text x="904" y="1193">0.5</text><text x="904" y="1208">3.0</text><text x="892" y="1227.5">3.0(GSL)/0.85(DSL)</text><text x="904" y="1242.4">0.85</text><text x="904" y="1254.4">0.85</text><text x="904" y="1267.9">2.0</text><text x="904" y="1281.4">0.5</text><text x="904" y="1296.4">0.5</text><text x="904" y="1312.8">2.0</text><text x="904" y="1328.4">0.5</text><text x="904" y="1364.7">3.0</text><text x="904" y="1380.3">0.5</text><text x="904" y="1401.2">0.5</text><text x="904" y="1426.7">3.0</text><text x="904" y="1447.5">3.0</text><text x="904" y="1471.7">3.0</text><text x="904" y="1495.8">3.0</text>
</g>
<path class="k" d="M1003.5,980H1012.9V1055.8H1003.5"/>
<g class="r"><text x="1017.6" y="1007">Стелоподъемни</text><text x="1017.6" y="1015">ки (только</text><text x="1017.6" y="1023">R250)</text></g>
<text class="p" x="1009" y="1232.5" style="font-size:4.8px">GSL/DSL - бензин/дизель</text>
</svg>
</body></html>
